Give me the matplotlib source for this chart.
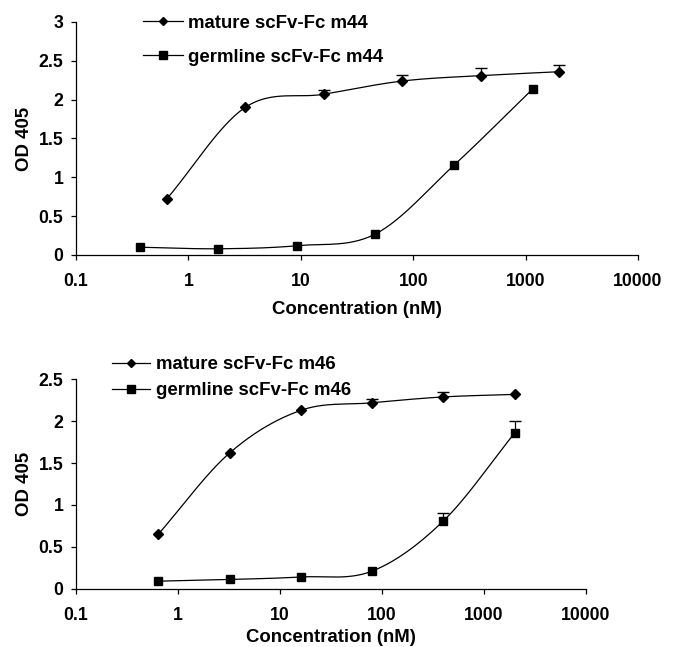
import numpy as np
import matplotlib
matplotlib.use("Agg")
import matplotlib.pyplot as plt

plt.rcParams["font.family"] = ["Liberation Sans", "DejaVu Sans"]
plt.rcParams["font.weight"] = "bold"
plt.rcParams["font.size"] = 13

# Panel A (m44)
conc_mature44 = [0.64, 3.2, 16, 80, 400, 2000]
od_mature44 = [0.72, 1.90, 2.07, 2.24, 2.31, 2.36]
err_mature44 = [0.0, 0.0, 0.05, 0.08, 0.10, 0.08]

conc_germ44 = [0.37, 1.85, 9.3, 46, 232, 1160]
od_germ44 = [0.10, 0.08, 0.12, 0.27, 1.16, 2.14]
err_germ44 = [0.0, 0.0, 0.0, 0.0, 0.0, 0.0]

# Panel B (m46)
conc_mature46 = [0.64, 3.2, 16, 80, 400, 2000]
od_mature46 = [0.65, 1.62, 2.13, 2.22, 2.29, 2.32]
err_mature46 = [0.0, 0.0, 0.0, 0.05, 0.06, 0.0]

conc_germ46 = [0.64, 3.2, 16, 80, 400, 2000]
od_germ46 = [0.09, 0.11, 0.14, 0.21, 0.81, 1.86]
err_germ46 = [0.0, 0.0, 0.0, 0.0, 0.095, 0.14]

xticks = [0.1, 1, 10, 100, 1000, 10000]
xticklabels = ["0.1", "1", "10", "100", "1000", "10000"]


def smooth(x, y, n=30):
    # Catmull-Rom through the points, in log-x space (like Excel smoothed lines)
    lx = np.log10(x)
    y = np.asarray(y, float)
    px = np.concatenate([[2 * lx[0] - lx[1]], lx, [2 * lx[-1] - lx[-2]]])
    py = np.concatenate([[2 * y[0] - y[1]], y, [2 * y[-1] - y[-2]]])
    xs, ys = [], []
    t = np.linspace(0, 1, n)
    for i in range(1, len(px) - 2):
        for P, out in ((px, xs), (py, ys)):
            p0, p1, p2, p3 = P[i - 1], P[i], P[i + 1], P[i + 2]
            out.extend(0.5 * (2 * p1 + (-p0 + p2) * t
                              + (2 * p0 - 5 * p1 + 4 * p2 - p3) * t ** 2
                              + (-p0 + 3 * p1 - 3 * p2 + p3) * t ** 3))
    return 10 ** np.array(xs), np.array(ys)


def draw_series(ax, x, y, err, marker, ms, label):
    sx, sy = smooth(x, y)
    ax.plot(sx, sy, color="black", lw=0.9, zorder=2)
    x = np.asarray(x); y = np.asarray(y); err = np.asarray(err)
    m = err > 0
    ax.vlines(x[m], y[m], y[m] + err[m], color="black", lw=0.9, zorder=2)
    ax.plot(x[m], y[m] + err[m], ls="none", marker="_", ms=9, mew=1.0,
            color="black", zorder=2)
    ax.plot(x, y, ls="none", marker=marker, ms=ms, color="black", zorder=3)
    ax.plot([], [], color="black", lw=0.9, marker=marker, ms=ms * 0.9, label=label)


def style(ax, ymax, xlabelpad):
    ax.set_xscale("log")
    ax.set_xlim(0.1, 10000)
    ax.set_ylim(0, ymax)
    ax.set_xticks(xticks)
    ax.set_xticklabels(xticklabels)
    ax.minorticks_off()
    yt = np.arange(0, ymax + 0.01, 0.5)
    ax.set_yticks(yt)
    ax.set_yticklabels([f"{v:g}" for v in yt])
    for s in ("top", "right"):
        ax.spines[s].set_visible(False)
    for s in ("left", "bottom"):
        ax.spines[s].set_linewidth(0.9)
    ax.tick_params(direction="out", length=3.6, width=0.9, labelsize=12.7)
    ax.tick_params(axis="x", pad=9.5)
    ax.tick_params(axis="y", pad=5.5)
    ax.set_xlabel("Concentration (nM)", fontweight="bold", fontsize=13.4,
                  labelpad=xlabelpad)
    ax.set_ylabel("OD 405", fontweight="bold", fontsize=13.4, labelpad=4)


fig = plt.figure(figsize=(6.8, 6.47), dpi=100)

ax1 = fig.add_axes([0.1118, 0.6059, 0.8265, 0.3601])
draw_series(ax1, conc_mature44, od_mature44, err_mature44, "D", 5.0, "mature scFv-Fc m44")
draw_series(ax1, conc_germ44, od_germ44, err_germ44, "s", 6.3, "germline scFv-Fc m44")
style(ax1, 3, 7.5)
ax1.legend(loc="upper left", bbox_to_anchor=(143 / 680, 1 - 14.5 / 647),
           bbox_transform=fig.transFigure, frameon=False, borderpad=0,
           borderaxespad=0, handlelength=2.15, handletextpad=0.27,
           labelspacing=0.93, prop={"weight": "bold", "size": 13.4})

ax2 = fig.add_axes([0.1118, 0.0901, 0.75, 0.3236])
draw_series(ax2, conc_mature46, od_mature46, err_mature46, "D", 5.0, "mature scFv-Fc m46")
draw_series(ax2, conc_germ46, od_germ46, err_germ46, "s", 6.3, "germline scFv-Fc m46")
style(ax2, 2.5, 3.5)
ax2.legend(loc="upper left", bbox_to_anchor=(112 / 680, 1 - 356 / 647),
           bbox_transform=fig.transFigure, frameon=False, borderpad=0,
           borderaxespad=0, handlelength=2.05, handletextpad=0.33,
           labelspacing=0.5, prop={"weight": "bold", "size": 13.4})

fig.savefig("out.png", dpi=100)
